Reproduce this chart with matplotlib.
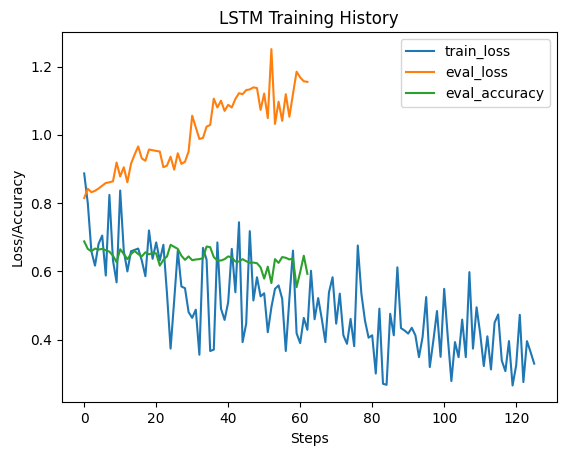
import matplotlib
matplotlib.use("Agg")
import matplotlib.pyplot as plt

train_loss = [
    0.887, 0.80, 0.659, 0.617, 0.681, 0.705, 0.588, 0.824, 0.632, 0.568,
    0.837, 0.66, 0.600, 0.659, 0.663, 0.667, 0.632, 0.586, 0.720, 0.637,
    0.685, 0.632, 0.678, 0.535, 0.374, 0.515, 0.661, 0.556, 0.551, 0.481,
    0.464, 0.488, 0.356, 0.669, 0.634, 0.367, 0.371, 0.685, 0.491, 0.458,
    0.510, 0.666, 0.539, 0.744, 0.393, 0.447, 0.718, 0.515, 0.583, 0.527,
    0.536, 0.422, 0.495, 0.549, 0.559, 0.520, 0.367, 0.52, 0.661, 0.419,
    0.390, 0.464, 0.429, 0.602, 0.46, 0.522, 0.461, 0.393, 0.539, 0.583,
    0.447, 0.535, 0.413, 0.388, 0.461, 0.381, 0.676, 0.535, 0.456, 0.406,
    0.413, 0.301, 0.491, 0.271, 0.268, 0.476, 0.413, 0.612, 0.434, 0.427,
    0.418, 0.435, 0.413, 0.349, 0.408, 0.525, 0.320, 0.398, 0.484, 0.35,
    0.549, 0.408, 0.279, 0.393, 0.349, 0.459, 0.349, 0.598, 0.374, 0.495,
    0.418, 0.323, 0.410, 0.313, 0.450, 0.474, 0.339, 0.308, 0.396, 0.266,
    0.325, 0.473, 0.276, 0.396, 0.364, 0.330,
]

eval_loss = [
    0.815, 0.842, 0.832, 0.836, 0.843, 0.851, 0.859, 0.861, 0.864, 0.919,
    0.878, 0.905, 0.861, 0.915, 0.942, 0.966, 0.931, 0.924, 0.957, 0.955,
    0.953, 0.951, 0.905, 0.910, 0.936, 0.898, 0.946, 0.915, 0.921, 0.951,
    1.056, 1.022, 0.988, 0.991, 1.024, 1.029, 1.106, 1.080, 1.100, 1.070,
    1.088, 1.080, 1.105, 1.122, 1.119, 1.131, 1.133, 1.139, 1.137, 1.073,
    1.121, 1.049, 1.251, 1.032, 1.097, 1.041, 1.119, 1.053, 1.120, 1.185,
    1.168, 1.157, 1.155,
]

eval_accuracy = [
    0.688, 0.666, 0.659, 0.667, 0.664, 0.666, 0.662, 0.658, 0.646, 0.627,
    0.665, 0.651, 0.636, 0.651, 0.660, 0.651, 0.644, 0.656, 0.650, 0.654,
    0.653, 0.617, 0.634, 0.644, 0.678, 0.672, 0.666, 0.646, 0.634, 0.644,
    0.633, 0.635, 0.636, 0.639, 0.673, 0.671, 0.642, 0.632, 0.632, 0.636,
    0.644, 0.641, 0.629, 0.629, 0.636, 0.630, 0.625, 0.626, 0.624, 0.612,
    0.579, 0.614, 0.566, 0.636, 0.625, 0.642, 0.640, 0.635, 0.638, 0.554,
    0.598, 0.646, 0.593,
]

fig = plt.figure(figsize=(5.67, 4.55), dpi=100)
ax = fig.add_axes([0.1088, 0.1158, 0.873, 0.8132])

ax.plot(range(len(train_loss)), train_loss, label="train_loss")
ax.plot(range(len(eval_loss)), eval_loss, label="eval_loss")
ax.plot(range(len(eval_accuracy)), eval_accuracy, label="eval_accuracy")

ax.set_title("LSTM Training History")
ax.set_xlabel("Steps")
ax.set_ylabel("Loss/Accuracy")
ax.legend(loc="upper right")

fig.savefig("out.png", dpi=100)
